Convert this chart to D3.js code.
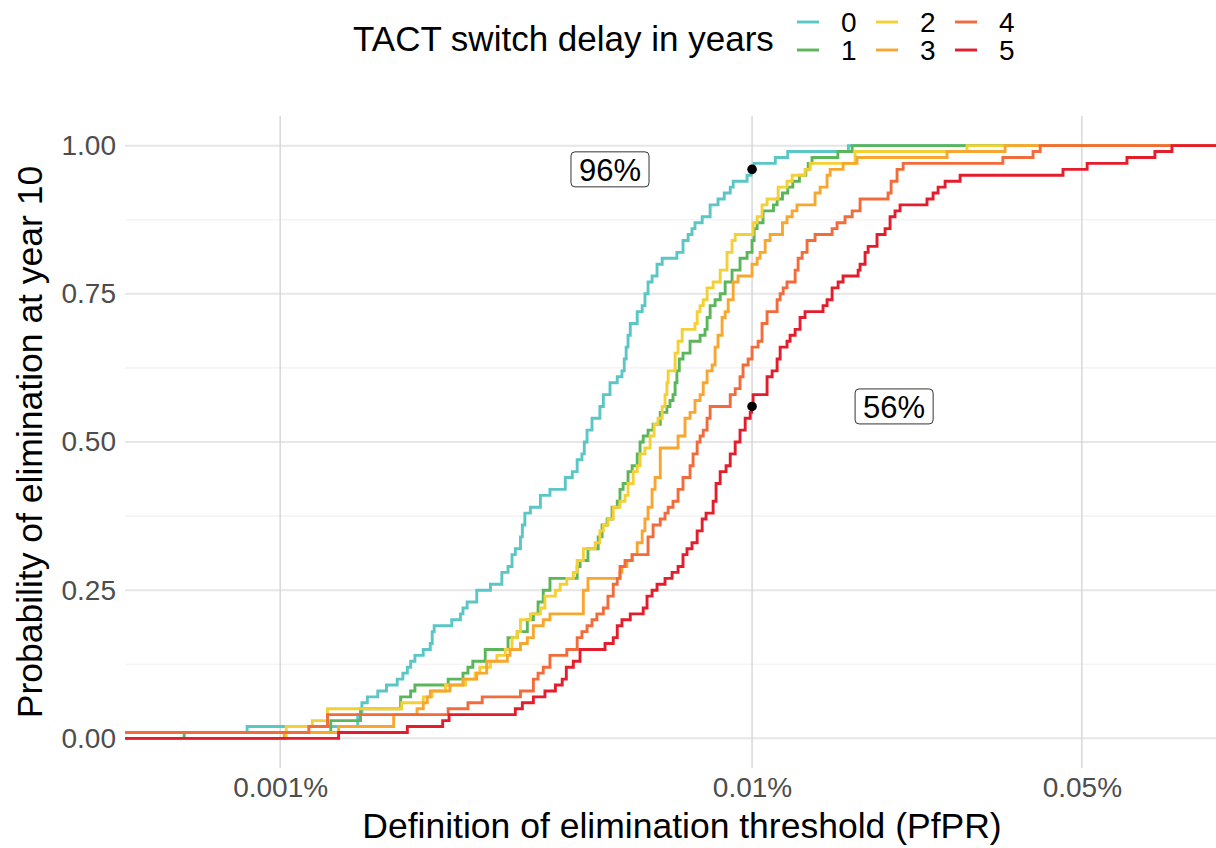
<!DOCTYPE html>
<html>
<head>
<meta charset="utf-8">
<script src="https://cdn.jsdelivr.net/npm/d3@7"></script>
<style>
  body { margin: 0; background: #fff; }
  svg text { font-family: "Liberation Sans", Arial, sans-serif; }
</style>
</head>
<body>
<div id="chart"></div>
<script>
// series: TACT switch delay (years); each point = [threshold PfPR %, probability after the step]
var delays = ["0", "1", "2", "3", "4", "5"];
var startProb = [0.01, 0, 0, 0, 0.01, 0];

var delay0 = [[0.000851,0.02],[0.00146,0.04],[0.00149,0.06],[0.00153,0.07],[0.00161,0.08],[0.00168,0.09],[0.00177,0.10],
  [0.00182,0.11],[0.00186,0.12],[0.00189,0.13],[0.00193,0.14],[0.00201,0.15],[0.00208,0.16],[0.00210,0.18],[0.00212,0.19],
  [0.00231,0.20],[0.00241,0.21],[0.00244,0.22],[0.00249,0.23],[0.00261,0.25],[0.00279,0.26],[0.00295,0.28],[0.00304,0.29],
  [0.00310,0.31],[0.00315,0.32],[0.00323,0.34],[0.00326,0.36],[0.00330,0.38],[0.00339,0.39],[0.00356,0.41],[0.00373,0.42],
  [0.00402,0.44],[0.00416,0.45],[0.00426,0.47],[0.00436,0.48],[0.00441,0.50],[0.00447,0.52],[0.00458,0.54],[0.00476,0.56],
  [0.00484,0.58],[0.00500,0.60],[0.00518,0.61],[0.00530,0.62],[0.00536,0.64],[0.00541,0.66],[0.00546,0.68],[0.00552,0.70],
  [0.00571,0.72],[0.00585,0.73],[0.00593,0.75],[0.00602,0.77],[0.00614,0.78],[0.00629,0.80],[0.00645,0.81],[0.00693,0.82],
  [0.00714,0.84],[0.00732,0.85],[0.00746,0.86],[0.00757,0.87],[0.00784,0.88],[0.00815,0.90],[0.00847,0.91],[0.00873,0.92],
  [0.00899,0.93],[0.00912,0.94],[0.00976,0.95],[0.00995,0.96],[0.0101,0.97],[0.0112,0.98],[0.0119,0.99],[0.0160,1.00]];

var delay1 = [[0.000626,0.01],[0.00128,0.03],[0.00148,0.05],[0.00180,0.07],[0.00189,0.08],[0.00193,0.09],[0.00227,0.10],
  [0.00244,0.11],[0.00250,0.12],[0.00256,0.13],[0.00272,0.15],[0.00304,0.17],[0.00318,0.18],[0.00334,0.20],[0.00344,0.21],
  [0.00352,0.23],[0.00361,0.25],[0.00373,0.27],[0.00426,0.29],[0.00432,0.30],[0.00449,0.32],[0.00472,0.34],[0.00481,0.36],
  [0.00493,0.37],[0.00505,0.39],[0.00518,0.40],[0.00525,0.42],[0.00533,0.43],[0.00546,0.45],[0.00557,0.46],[0.00571,0.48],
  [0.00579,0.50],[0.00588,0.51],[0.00602,0.52],[0.00617,0.53],[0.00639,0.55],[0.00660,0.56],[0.00670,0.57],[0.00680,0.58],
  [0.00687,0.60],[0.00693,0.62],[0.00701,0.64],[0.00714,0.65],[0.00739,0.67],[0.00776,0.68],[0.00795,0.69],[0.00803,0.71],
  [0.00815,0.73],[0.00835,0.74],[0.00856,0.75],[0.00877,0.77],[0.00907,0.79],[0.00943,0.81],[0.00976,0.82],[0.0100,0.84],
  [0.0101,0.86],[0.01025,0.87],[0.01055,0.89],[0.0111,0.90],[0.0113,0.91],[0.0116,0.92],[0.0119,0.93],[0.0122,0.94],
  [0.0126,0.95],[0.0130,0.96],[0.01315,0.97],[0.0134,0.98],[0.0152,0.99],[0.0163,1.00]];

var delay2 = [[0.00103,0.02],[0.00117,0.03],[0.00126,0.05],[0.00181,0.06],[0.00201,0.07],[0.00210,0.08],[0.00224,0.09],
  [0.00247,0.10],[0.00259,0.11],[0.00265,0.12],[0.00279,0.13],[0.00288,0.14],[0.00300,0.15],[0.00310,0.17],[0.00318,0.18],
  [0.00323,0.20],[0.00339,0.21],[0.00356,0.22],[0.00364,0.24],[0.00383,0.25],[0.00392,0.26],[0.00405,0.27],[0.00418,0.28],
  [0.00426,0.30],[0.00439,0.32],[0.00465,0.33],[0.00476,0.35],[0.00484,0.36],[0.00495,0.37],[0.00508,0.39],[0.00525,0.40],
  [0.00538,0.41],[0.00546,0.43],[0.00560,0.45],[0.00571,0.46],[0.00579,0.48],[0.00593,0.49],[0.00608,0.51],[0.00620,0.53],
  [0.00632,0.54],[0.00645,0.56],[0.00654,0.58],[0.00660,0.60],[0.00664,0.62],[0.00687,0.65],[0.00697,0.67],[0.00711,0.69],
  [0.00757,0.70],[0.00765,0.72],[0.00776,0.73],[0.00788,0.74],[0.00803,0.76],[0.00827,0.77],[0.00856,0.79],[0.00885,0.82],
  [0.00907,0.84],[0.00921,0.85],[0.01005,0.87],[0.01025,0.88],[0.0105,0.90],[0.01076,0.91],[0.01136,0.93],[0.01186,0.94],
  [0.01216,0.95],[0.01295,0.96],[0.01328,0.97],[0.01653,0.99],[0.02854,1.00]];

var delay3 = [[0.00102,0.01],[0.00133,0.02],[0.00174,0.04],[0.00195,0.05],[0.00201,0.06],[0.00205,0.07],[0.00208,0.08],
  [0.00229,0.09],[0.00244,0.10],[0.00261,0.11],[0.00274,0.13],[0.00303,0.14],[0.00307,0.15],[0.00323,0.16],[0.00334,0.17],
  [0.00344,0.19],[0.00361,0.20],[0.00373,0.21],[0.00439,0.25],[0.00449,0.27],[0.00525,0.28],[0.00530,0.29],[0.00543,0.30],
  [0.00557,0.31],[0.00571,0.33],[0.00585,0.35],[0.00593,0.37],[0.00602,0.39],[0.00614,0.42],[0.00623,0.44],[0.00639,0.49],
  [0.00697,0.51],[0.00721,0.54],[0.00739,0.55],[0.00757,0.57],[0.00776,0.58],[0.00788,0.60],[0.00803,0.62],[0.00823,0.63],
  [0.00835,0.66],[0.00847,0.68],[0.00864,0.71],[0.00877,0.72],[0.00890,0.74],[0.00912,0.77],[0.00934,0.78],[0.0100,0.80],
  [0.01025,0.81],[0.0104,0.82],[0.01066,0.84],[0.01092,0.85],[0.0116,0.87],[0.01186,0.88],[0.01216,0.89],[0.01245,0.90],
  [0.0136,0.92],[0.01394,0.93],[0.01442,0.95],[0.01464,0.96],[0.01559,0.97],[0.01669,0.98],[0.02589,0.99],[0.03437,1.00]];

var delay4 = [[0.00115,0.02],[0.00126,0.04],[0.00227,0.05],[0.00250,0.06],[0.00268,0.07],[0.00323,0.08],[0.00344,0.10],
  [0.00352,0.11],[0.00361,0.12],[0.00373,0.14],[0.00405,0.15],[0.00426,0.17],[0.00436,0.18],[0.00447,0.19],[0.00458,0.20],
  [0.00469,0.21],[0.00484,0.22],[0.00495,0.24],[0.00508,0.26],[0.00518,0.27],[0.00525,0.29],[0.00538,0.30],[0.00557,0.31],
  [0.00602,0.34],[0.00617,0.36],[0.00639,0.37],[0.00654,0.38],[0.00664,0.39],[0.00680,0.40],[0.00697,0.42],[0.00714,0.44],
  [0.00739,0.46],[0.00750,0.48],[0.00765,0.50],[0.00776,0.51],[0.00788,0.52],[0.00803,0.54],[0.00815,0.56],[0.00899,0.58],
  [0.00921,0.59],[0.00943,0.61],[0.00957,0.63],[0.00981,0.64],[0.0100,0.66],[0.0103,0.67],[0.0105,0.70],[0.01076,0.72],
  [0.0113,0.74],[0.01147,0.75],[0.01164,0.76],[0.01186,0.77],[0.01234,0.79],[0.01252,0.81],[0.01277,0.82],[0.01308,0.84],
  [0.0136,0.85],[0.01478,0.86],[0.01514,0.87],[0.01574,0.88],[0.0163,0.89],[0.01694,0.91],[0.01942,0.92],[0.01971,0.94],
  [0.02029,0.96],[0.0209,0.97],[0.0340,0.98],[0.0394,0.99],[0.0408,1.00]];

var delay5 = [[0.00133,0.01],[0.00186,0.02],[0.00221,0.03],[0.00228,0.04],[0.00315,0.05],[0.00326,0.06],[0.00344,0.07],
  [0.00364,0.08],[0.00383,0.09],[0.00396,0.10],[0.00404,0.12],[0.00418,0.13],[0.00432,0.15],[0.00488,0.16],[0.00508,0.17],
  [0.00518,0.19],[0.00530,0.20],[0.00552,0.21],[0.00588,0.22],[0.00599,0.24],[0.00614,0.25],[0.00629,0.26],[0.00654,0.27],
  [0.00677,0.28],[0.00697,0.29],[0.00714,0.31],[0.00728,0.32],[0.00746,0.33],[0.00765,0.35],[0.00784,0.37],[0.00799,0.38],
  [0.00827,0.40],[0.00839,0.43],[0.00856,0.45],[0.00881,0.46],[0.00899,0.48],[0.00921,0.50],[0.00943,0.52],[0.00967,0.54],
  [0.00991,0.55],[0.00998,0.56],[0.01005,0.58],[0.01076,0.61],[0.01103,0.62],[0.0113,0.64],[0.01147,0.66],[0.01186,0.67],
  [0.01204,0.68],[0.01234,0.69],[0.01264,0.71],[0.01295,0.72],[0.01414,0.73],[0.01442,0.74],[0.01478,0.76],[0.01522,0.77],
  [0.01559,0.78],[0.01678,0.79],[0.01694,0.80],[0.01736,0.82],[0.01762,0.83],[0.0184,0.85],[0.01914,0.86],[0.01961,0.88],
  [0.02009,0.89],[0.02059,0.90],[0.02348,0.91],[0.02419,0.92],[0.02479,0.93],[0.02565,0.94],[0.0276,0.95],[0.0456,0.96],
  [0.0513,0.97],[0.0623,0.98],[0.0714,0.99],[0.0776,1.00]];

var seriesData = [delay0, delay1, delay2, delay3, delay4, delay5];

var xTicks = [0.001, 0.01, 0.05];
var xTickLabels = ["0.001%", "0.01%", "0.05%"];
var yTicks = [0, 0.25, 0.5, 0.75, 1];
var yMinor = [0.125, 0.375, 0.625, 0.875];

// highlighted points at the 0.01% threshold
var markX = [0.01, 0.01];
var markY = [0.96, 0.56];
var noteX = [0.005, 0.02];
var noteY = [0.96, 0.56];
var noteText = ["96%", "56%"];

var colors = ["#5ac6c6", "#5bb55b", "#f4cf35", "#f7a630", "#f26b3b", "#e41d2c"];

var W = 1216, H = 848;
var panel = {left: 125, right: 1216, top: 116, bottom: 768};

var x = d3.scaleLog().domain([0.000469, 0.0962]).range([panel.left, panel.right]);
var y = d3.scaleLinear().domain([-0.05, 1.05]).range([panel.bottom, panel.top]);

var svg = d3.select("#chart").append("svg")
    .attr("width", W)
    .attr("height", H);

svg.append("defs").append("clipPath").attr("id", "clip")
  .append("rect")
    .attr("x", panel.left).attr("y", panel.top)
    .attr("width", panel.right - panel.left).attr("height", panel.bottom - panel.top);

// grid
svg.append("g").selectAll("line").data(yMinor).enter().append("line")
    .attr("x1", panel.left).attr("x2", panel.right)
    .attr("y1", y).attr("y2", y)
    .attr("stroke", "#f0f0f0").attr("stroke-width", 1.2);

svg.append("g").selectAll("line").data(yTicks).enter().append("line")
    .attr("x1", panel.left).attr("x2", panel.right)
    .attr("y1", y).attr("y2", y)
    .attr("stroke", "#e6e6e6").attr("stroke-width", 2);

svg.append("g").selectAll("line").data(xTicks).enter().append("line")
    .attr("x1", x).attr("x2", x)
    .attr("y1", panel.top).attr("y2", panel.bottom)
    .attr("stroke", "#d2d2d2").attr("stroke-width", 1.3);

// axes (text only)
var xAxis = svg.append("g")
    .attr("transform", "translate(0," + (panel.bottom + 6) + ")")
    .call(d3.axisBottom(x).tickValues(xTicks).tickFormat(function(d, i) { return xTickLabels[i]; }).tickSize(0));
xAxis.select(".domain").remove();
xAxis.selectAll("text")
    .attr("font-size", 28).attr("fill", "#4d4d4d").attr("dy", "0.71em")
    .attr("font-family", "Liberation Sans, Arial, sans-serif");

var yAxis = svg.append("g")
    .attr("transform", "translate(" + (panel.left - 6) + ",0)")
    .call(d3.axisLeft(y).tickValues(yTicks).tickFormat(d3.format(".2f")).tickSize(0));
yAxis.select(".domain").remove();
yAxis.selectAll("text")
    .attr("font-size", 28).attr("fill", "#4d4d4d")
    .attr("font-family", "Liberation Sans, Arial, sans-serif");

// lines
var line = d3.line()
    .x(function(d) { return x(d[0]); })
    .y(function(d) { return y(d[1]); })
    .curve(d3.curveStepAfter);

var plot = svg.append("g").attr("clip-path", "url(#clip)");
seriesData.forEach(function(pts, i) {
  var full = [[0.0003, startProb[i]]].concat(pts, [[0.2, pts[pts.length - 1][1]]]);
  plot.append("path")
      .datum(full)
      .attr("d", line)
      .attr("fill", "none")
      .attr("stroke", colors[i])
      .attr("stroke-width", 2.9);
});

// markers
svg.append("g").selectAll("circle").data(markX).enter().append("circle")
    .attr("cx", function(d) { return x(d); })
    .attr("cy", function(d, i) { return y(markY[i]); })
    .attr("r", 4.8)
    .attr("fill", "#000");

// labels
noteText.forEach(function(t, i) {
  var g = svg.append("g").attr("transform", "translate(" + x(noteX[i]) + "," + y(noteY[i]) + ")");
  var txt = g.append("text")
      .attr("text-anchor", "middle")
      .attr("dy", "0.36em")
      .attr("font-size", 31)
      .attr("fill", "#000")
      .text(t);
  var bb = txt.node().getBBox();
  g.insert("rect", "text")
      .attr("x", bb.x - 8).attr("y", -17.5)
      .attr("width", bb.width + 16).attr("height", 35)
      .attr("rx", 4).attr("ry", 4)
      .attr("fill", "#fff").attr("stroke", "#333").attr("stroke-width", 1);
});

// axis titles
svg.append("text")
    .attr("x", 682)
    .attr("y", 838)
    .attr("text-anchor", "middle")
    .attr("font-size", 35.5)
    .attr("fill", "#000")
    .text("Definition of elimination threshold (PfPR)");

svg.append("text")
    .attr("transform", "translate(42," + (panel.top + panel.bottom) / 2 + ") rotate(-90)")
    .attr("text-anchor", "middle")
    .attr("font-size", 35.5)
    .attr("fill", "#000")
    .text("Probability of elimination at year 10");

// legend
var legend = svg.append("g");
legend.append("text")
    .attr("x", 353).attr("y", 51)
    .attr("font-size", 35)
    .attr("fill", "#000")
    .text("TACT switch delay in years");

delays.forEach(function(d, i) {
  var col = Math.floor(i / 2), row = i % 2;
  var kx = 797 + col * 79, ky = 22 + row * 28;
  legend.append("line")
      .attr("x1", kx).attr("x2", kx + 22)
      .attr("y1", ky).attr("y2", ky)
      .attr("stroke", colors[i]).attr("stroke-width", 2.9);
  legend.append("text")
      .attr("x", kx + 44).attr("y", ky + 10)
      .attr("font-size", 28)
      .attr("fill", "#000")
      .text(d);
});
</script>
</body>
</html>
